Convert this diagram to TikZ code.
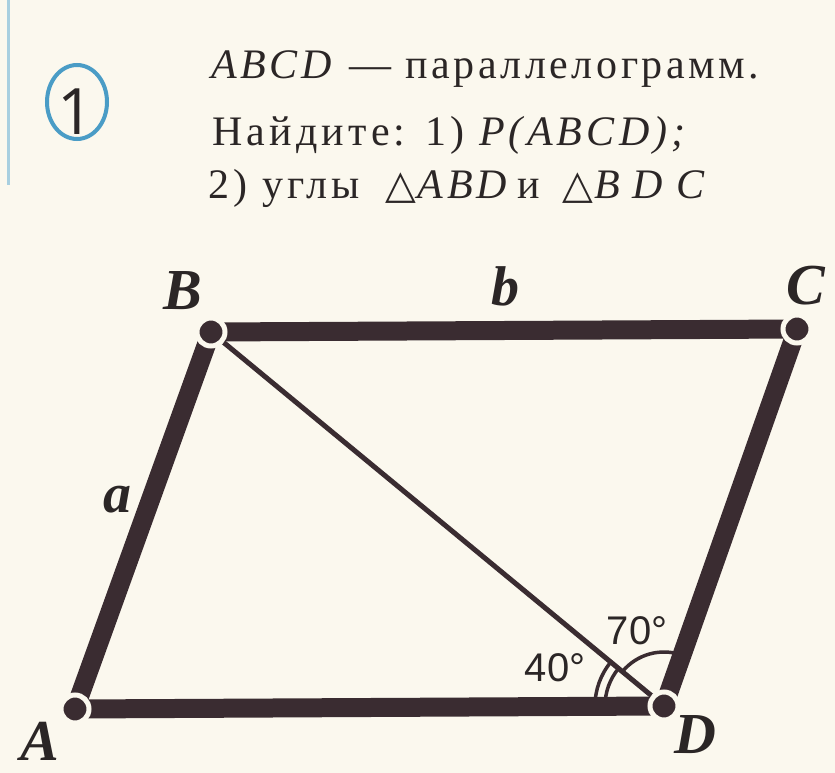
\documentclass[tikz,border=0pt]{standalone}
\usepackage{fontspec}
\setmainfont{Liberation Serif}
\newfontfamily\labsans{Liberation Sans}
\newfontfamily\numsans{Open Sans}
\newfontfamily\tasktext[LetterSpace=10]{Liberation Serif}
\newfontfamily\tasktextn[LetterSpace=8.5]{Liberation Serif}
\newfontfamily\symfont{DejaVu Sans}
\newcommand{\trisym}{{\symfont\fontsize{40}{44}\selectfont △}}
\newcommand{\at}[2]{\rlap{\hspace*{#1pt}#2}}
\definecolor{bg}{HTML}{FBF8EE}
\definecolor{ink}{HTML}{3A2C31}
\definecolor{txt}{HTML}{2B2626}
\definecolor{circblue}{HTML}{4A9CC6}
\definecolor{edgeblue}{HTML}{A8CFE0}
\tikzset{
  bar/.style={ink, line width=19pt},
  diag/.style={ink, line width=5pt},
  anglearc/.style={ink, line width=3.5pt},
  vertexdot/.style={circle, fill=ink, draw=bg, line width=5pt, minimum size=28pt, inner sep=0pt},
  vlabel/.style={txt, font=\fontsize{58}{60}\selectfont\bfseries\itshape, inner sep=0pt},
  slabel/.style={txt, font=\fontsize{56}{60}\selectfont\bfseries\itshape, inner sep=0pt},
  alabel/.style={txt, font=\fontsize{40}{44}\selectfont\labsans, inner sep=0pt},
  task/.style={txt, font=\fontsize{42}{50}\selectfont\tasktext, anchor=base west, inner sep=0pt},
}
\begin{document}
\begin{tikzpicture}[x=1pt,y=-1pt]
\fill[bg] (0,0) rectangle (835,773);
\useasboundingbox (0,0) rectangle (835,773);
% left edge
\draw[edgeblue, line width=3pt] (8,0) -- (8,185);
% circled 1
\draw[circblue, line width=4pt] (77,102) ellipse [x radius=30pt, y radius=37pt];
\node[txt, font=\fontsize{64}{70}\selectfont\numsans, inner sep=0pt] (num) at (76,112) {1};
% task text
\node[task, font=\fontsize{42}{50}\selectfont\tasktextn] (t1) at (211,79) {\textit{ABCD} — параллелограмм.};
\node[task] (t2) at (212,146) {Найдите: 1) \textit{P(ABCD);}};
\node[task] (t3) at (208,198) {\at{0}{2) углы}\at{177}{\trisym}\at{209}{\textit{ABD}}\at{309}{и}\at{354}{\trisym}\at{386}{\textit{B\kern13pt D\kern13pt C}}\hspace*{510pt}\strut};
% vertices
\coordinate (A) at (75,709);
\coordinate (B) at (211,332);
\coordinate (C) at (797,329);
\coordinate (D) at (664,706);
% sides
\draw[bar] (A) -- (B);
\draw[bar] (B) -- (C);
\draw[bar] (C) -- (D);
\draw[bar] (D) -- (A);
\draw[diag] (B) -- (D);
% angle marks
\draw[anglearc] ([shift={(180:59pt)}]D) arc[start angle=180, end angle=140.5, radius=59pt];
\draw[anglearc] ([shift={(180:69pt)}]D) arc[start angle=180, end angle=140.5, radius=69pt];
\draw[anglearc] ([shift={(140.5:54pt)}]D) arc[start angle=140.5, end angle=70.6, radius=54pt];
% dots
\node[vertexdot] (dA) at (A) {};
\node[vertexdot] (dB) at (B) {};
\node[vertexdot] (dC) at (C) {};
\node[vertexdot] (dD) at (D) {};
% labels
\node[vlabel] (lA) at (40,741) {A};
\node[vlabel] (lB) at (183,291) {B};
\node[vlabel] (lC) at (806,286) {C};
\node[vlabel] (lD) at (695,735) {D};
\node[slabel, anchor=base] (la) at (117,512) {a};
\node[slabel, anchor=base] (lb) at (505,305) {b};
\node[alabel] (a40) at (555,668) {40°};
\node[alabel] (a70) at (637,631) {70°};
\end{tikzpicture}
\end{document}
